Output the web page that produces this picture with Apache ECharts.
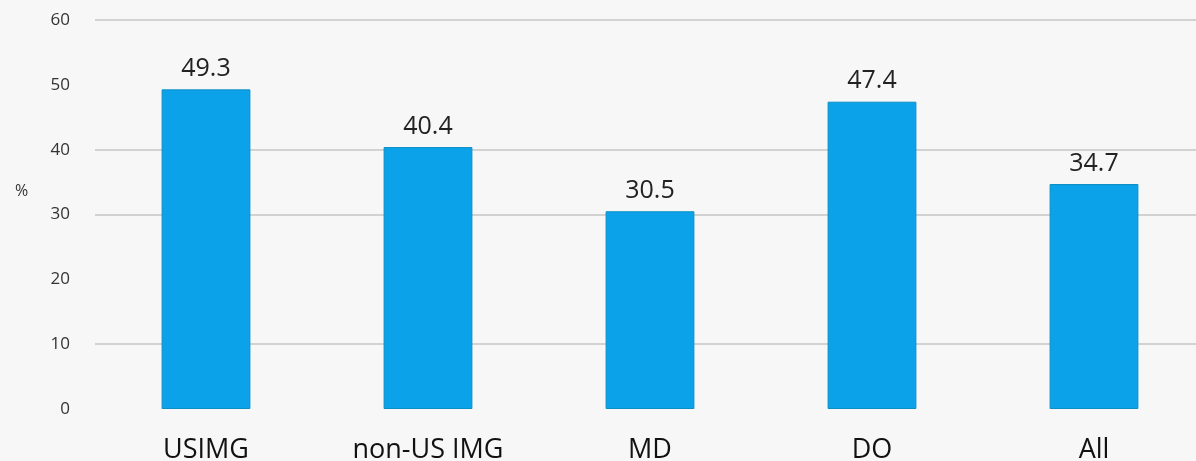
<!DOCTYPE html>
<html>
<head>
<meta charset="utf-8">
<script src="https://cdn.jsdelivr.net/npm/echarts@6/dist/echarts.min.js"></script>
<style>
  html, body { margin: 0; padding: 0; background: #f7f7f7; }
  #chart { width: 1196px; height: 461px; }
</style>
</head>
<body>
<div id="chart"></div>
<script>
// Share (%) by applicant group
const categories = ['USIMG', 'non-US IMG', 'MD', 'DO', 'All'];
const values = [49.3, 40.4, 30.5, 47.4, 34.7];
const yTicks = [0, 10, 20, 30, 40, 50, 60];

const chart = echarts.init(document.getElementById('chart'));

chart.setOption({
  backgroundColor: '#f7f7f7',
  animation: false,
  textStyle: { fontFamily: 'Open Sans, Noto Sans, sans-serif' },
  grid: {
    left: 95, top: 20, width: 1110, bottom: 52,
    containLabel: false, outerBoundsMode: 'none'
  },
  graphic: [{
    type: 'text',
    left: 15,
    top: 183,
    style: { text: '%', fill: '#333', font: '16px "Open Sans", sans-serif' }
  }],
  xAxis: {
    type: 'category',
    data: categories,
    axisLine: { show: false },
    axisTick: { show: false },
    axisLabel: { color: '#111', fontSize: 27, margin: 28 }
  },
  yAxis: {
    type: 'value',
    min: yTicks[0],
    max: yTicks[yTicks.length - 1],
    interval: 10,
    axisLine: { show: false },
    axisTick: { show: false },
    axisLabel: { color: '#333', fontSize: 17, margin: 25 },
    splitLine: {
      lineStyle: {
        width: 2,
        color: ['transparent', '#d2d2d2', 'transparent', '#d2d2d2', '#d2d2d2', 'transparent', '#d2d2d2']
      }
    }
  },
  series: [{
    type: 'bar',
    data: values,
    barWidth: '40%',
    itemStyle: { color: '#0ba2ea', borderColor: '#0a8fc4', borderWidth: 1 },
    label: {
      show: true,
      position: 'top',
      distance: 8,
      color: '#222',
      fontSize: 25,
      formatter: p => p.value.toFixed(1)
    }
  }]
});
</script>
</body>
</html>
